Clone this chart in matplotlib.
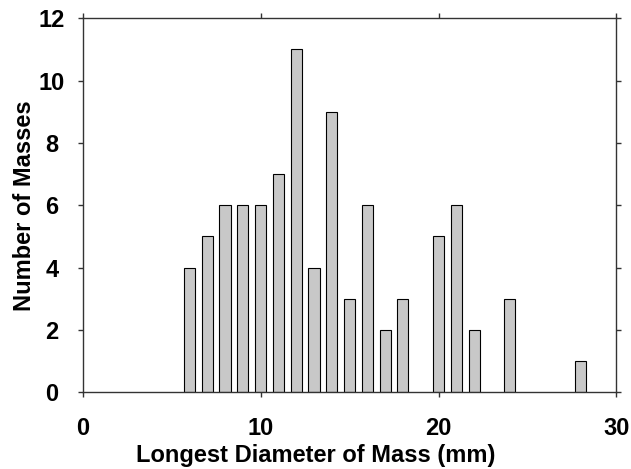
import matplotlib
matplotlib.use('Agg')
import matplotlib.pyplot as plt

# longest diameter (mm) and count of masses
diameters = [6, 7, 8, 9, 10, 11, 12, 13, 14, 15, 16, 17, 18, 20, 21, 22, 24, 28]
counts = [4, 5, 6, 6, 6, 7, 11, 4, 9, 3, 6, 2, 3, 5, 6, 2, 3, 1]

plt.rcParams['font.family'] = ['Liberation Sans', 'DejaVu Sans']
plt.rcParams['font.weight'] = 'bold'

fig = plt.figure(figsize=(6.31, 4.69), dpi=100)
ax = fig.add_axes([0.131, 0.1635, 0.846, 0.7975])

ax.bar(diameters, counts, width=0.62, color='#c8c8c8', edgecolor='black', linewidth=0.8)

ax.set_xlim(0, 30)
ax.set_ylim(0, 12)
ax.set_xticks([0, 10, 20, 30])
ax.set_yticks([0, 2, 4, 6, 8, 10, 12])
ax.tick_params(axis='both', which='both', direction='out', length=3.6, width=1,
               labelsize=17, top=True, right=True, color='#333333')
ax.tick_params(axis='x', pad=14)
ax.tick_params(axis='y', pad=18.5)
for lbl in ax.get_yticklabels():
    lbl.set_horizontalalignment('center')
for s in ax.spines.values():
    s.set_linewidth(1)
    s.set_color('#333333')

ax.set_xlabel('Longest Diameter of Mass (mm)', fontsize=17, fontweight='bold', labelpad=3)
ax.xaxis.label.set_x(0.437)
ax.set_ylabel('Number of Masses', fontsize=17, fontweight='bold', labelpad=2)

fig.savefig('out.png', dpi=100)
